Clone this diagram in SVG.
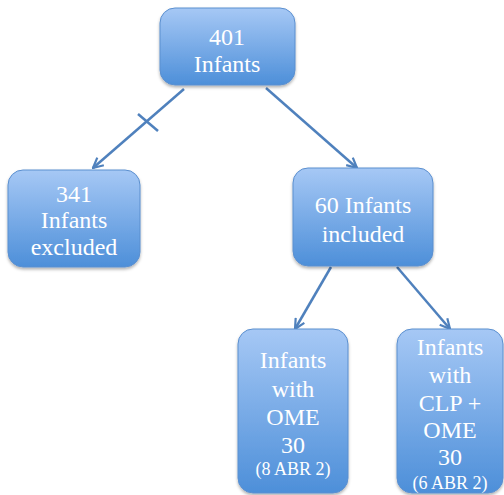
<svg xmlns="http://www.w3.org/2000/svg" width="504" height="495" viewBox="0 0 504 495">
<defs>
<linearGradient id="g" x1="0" y1="0" x2="0" y2="1">
<stop offset="0" stop-color="#a6c8f5"/>
<stop offset="1" stop-color="#4d8fd9"/>
</linearGradient>
<filter id="sh" x="-10%" y="-10%" width="130%" height="130%">
<feDropShadow dx="0" dy="2" stdDeviation="1.5" flood-color="#000" flood-opacity="0.3"/>
</filter>
<marker id="arr" viewBox="0 0 12 12" refX="11" refY="6" markerWidth="12" markerHeight="12" markerUnits="userSpaceOnUse" orient="auto">
<path d="M1,1 L11,6 L1,11" fill="none" stroke="#4f81bd" stroke-width="2.2"/>
</marker>
<style>
.box{fill:url(#g);stroke:#5b8fcf;stroke-width:1;filter:url(#sh)}
text{font-family:"Liberation Serif","DejaVu Serif",serif;font-size:24px;fill:#fff;text-anchor:middle}
.sm{font-size:18px}
.c{stroke:#4f81bd;stroke-width:2.5;fill:none}
</style>
</defs>
<g id="connectors">
<line class="c" x1="184" y1="89" x2="93" y2="168" marker-end="url(#arr)"/>
<line class="c" x1="138" y1="114" x2="158" y2="131"/>
<line class="c" x1="266" y1="88" x2="357" y2="168" marker-end="url(#arr)"/>
<line class="c" x1="331" y1="267" x2="295" y2="329" marker-end="url(#arr)"/>
<line class="c" x1="397" y1="267" x2="450" y2="329" marker-end="url(#arr)"/>
</g>
<g id="n401">
<rect class="box" x="160" y="8" width="135" height="77" rx="15"/>
<text x="227" y="45">401</text>
<text x="227" y="72">Infants</text>
</g>
<g id="n341">
<rect class="box" x="8" y="170" width="132" height="97" rx="15"/>
<text x="74" y="202">341</text>
<text x="74" y="228">Infants</text>
<text x="74" y="255">excluded</text>
</g>
<g id="n60">
<rect class="box" x="293" y="168" width="140" height="98" rx="15"/>
<text x="363" y="213">60 Infants</text>
<text x="363" y="242">included</text>
</g>
<g id="nOME">
<rect class="box" x="238" y="329" width="110" height="164" rx="15"/>
<text x="293" y="368">Infants</text>
<text x="293" y="397">with</text>
<text x="293" y="425">OME</text>
<text x="293" y="453">30</text>
<text class="sm" x="293" y="475">(8 ABR 2)</text>
</g>
<g id="nCLP">
<rect class="box" x="397" y="329" width="106" height="164" rx="15"/>
<text x="450" y="355">Infants</text>
<text x="450" y="383">with</text>
<text x="450" y="411">CLP +</text>
<text x="450" y="438">OME</text>
<text x="450" y="465">30</text>
<text class="sm" x="450" y="489">(6 ABR 2)</text>
</g>
</svg>
